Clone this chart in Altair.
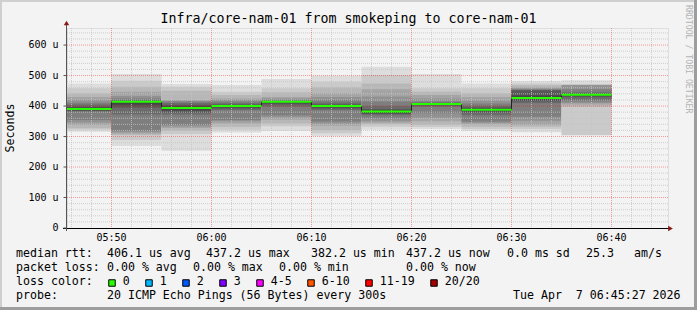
import altair as alt
import pandas as pd

# ---------------- data ----------------
bar_starts = ["05:45", "05:50", "05:55", "06:00", "06:05", "06:10",
              "06:15", "06:20", "06:25", "06:30", "06:35"]
step_minutes = 5
medians = [390, 414, 394, 400, 414, 400, 382, 407, 388, 426, 437]  # microseconds

# smoke bands: outer (band 1) to inner (band 10); upper edges p20..p11, lower edges p1..p10
smoke_hi = [
    [474, 458, 442, 430, 420, 411, 405, 398, 395, 392],
    [505, 483, 463, 447, 433, 425, 420, 417, 416, 415],
    [472, 463, 450, 420, 417, 415, 410, 404, 399, 397],
    [469, 447, 436, 425, 420, 415, 409, 405, 403, 401],
    [489, 458, 445, 430, 425, 420, 417, 416, 415, 414],
    [499, 480, 462, 442, 430, 420, 412, 406, 403, 401],
    [529, 502, 474, 455, 431, 415, 400, 390, 386, 384],
    [505, 458, 447, 436, 425, 415, 412, 410, 409, 408],
    [474, 458, 442, 430, 418, 408, 400, 395, 392, 390],
    [482, 474, 468, 462, 458, 455, 453, 452, 435, 428],
    [485, 472, 470, 469, 468, 455, 445, 441, 439, 438],
]
smoke_lo = [
    [316, 322, 327, 338, 346, 354, 381, 384, 386, 388],
    [269, 289, 305, 310, 314, 318, 372, 395, 404, 412],
    [253, 308, 318, 328, 333, 338, 372, 378, 385, 391],
    [313, 322, 332, 343, 350, 354, 387, 392, 396, 399],
    [318, 334, 343, 355, 363, 370, 398, 405, 409, 412],
    [302, 311, 321, 335, 343, 349, 387, 392, 396, 399],
    [322, 332, 340, 345, 350, 360, 370, 374, 376, 378],
    [325, 331, 338, 350, 362, 376, 398, 402, 405, 407],
    [318, 325, 332, 340, 345, 349, 370, 378, 382, 385],
    [314, 325, 332, 338, 352, 365, 409, 415, 420, 424],
    [303, 305, 398, 405, 410, 415, 420, 430, 434, 436],
]

y_ticks = [0, 100, 200, 300, 400, 500, 600]
y_labels = ["0", "100 u", "200 u", "300 u", "400 u", "500 u", "600 u"]
x_ticks = ["05:50", "06:00", "06:10", "06:20", "06:30", "06:40"]

title_text = "Infra/core-nam-01 from smokeping to core-nam-01"
loss_colors = ["#26ff00", "#00b8ff", "#0059ff", "#7e00ff", "#ff00ff", "#ff5500", "#ff0000", "#a10000"]
loss_labels = ["0", "1", "2", "3", "4-5", "6-10", "11-19", "20/20"]

legend_rows = [
    [("median rtt:", 16), ("406.1 us avg", 107), ("437.2 us max", 206), ("382.2 us min", 311),
     ("437.2 us now", 406), ("0.0 ms sd", 507), ("25.3", 586), ("am/s", 634)],
    [("packet loss:", 16), ("0.00 % avg", 107), ("0.00 % max", 193), ("0.00 % min", 279),
     ("0.00 % now", 406)],
    [("loss color:", 16)],
    [("probe:", 16), ("20 ICMP Echo Pings (56 Bytes) every 300s", 107),
     ("Tue Apr \u00a07 06:45:27 2026", 513)],
]

# ---------------- layout ----------------
W, H = 601, 200
L, T = 67, 28
FONT = "DejaVu Sans Mono"


def to_min(s):
    h, m = s.split(":")
    return int(h) * 60 + int(m)


x0 = to_min("05:50") - 4.45
xscale = alt.Scale(domain=[x0, x0 + W / 10.0], nice=False, zero=False)
yscale = alt.Scale(domain=[0, 656], nice=False, zero=False)

rows = []
for b, s in enumerate(bar_starts):
    t0 = to_min(s)
    for i in range(10):
        g = int(190 / 10 * (10 - (i + 1))) + 50
        rows.append(dict(t0=t0, t1=t0 + step_minutes, lo=smoke_lo[b][i], hi=smoke_hi[b][i],
                         color="#%02x%02x%02x" % (g, g, g), k=b * 10 + i))
smoke_df = pd.DataFrame(rows)

med_df = pd.DataFrame(dict(t0=[to_min(s) for s in bar_starts],
                           t1=[to_min(s) + step_minutes for s in bar_starts],
                           m=medians))
conn_df = pd.DataFrame(dict(t=[to_min(s) + step_minutes for s in bar_starts[:-1]],
                            a=medians[:-1], b=medians[1:]))

minor_y = [v for v in range(20, 656, 20) if v % 100]
major_y = [v for v in y_ticks if v > 0]
start_m, end_m = int(x0) + 1, int(x0 + W / 10.0)
minor_x = [v for v in range(start_m, end_m + 1) if v % 2 == 0 and v % 10]
major_x = [to_min(s) for s in x_ticks]

one = pd.DataFrame({"a": [0]})


def box(x1, y1, x2, y2, color):
    return alt.Chart(one).mark_rect(color=color).encode(
        x=alt.value(x1 - L), x2=alt.value(x2 - L), y=alt.value(y1 - T), y2=alt.value(y2 - T))


def label(text, x, y, size, color="#000000", align="left", angle=0):
    return alt.Chart(one).mark_text(text=text, font=FONT, fontSize=size, color=color,
                                    align=align, baseline="middle", angle=angle).encode(
        x=alt.value(x - L), y=alt.value(y - T))


smoke = alt.Chart(smoke_df).mark_rect(clip=True).encode(
    x=alt.X("t0:Q", scale=xscale, axis=None), x2="t1:Q",
    y=alt.Y("lo:Q", scale=yscale, axis=None), y2="hi:Q",
    color=alt.Color("color:N", scale=None), order=alt.Order("k:Q"))

grid_minor_y = alt.Chart(pd.DataFrame({"v": minor_y})).mark_rule(
    color="#c4c4c4", strokeDash=[1, 1], strokeWidth=1, opacity=0.8).encode(
    y=alt.Y("v:Q", scale=yscale, axis=None))
grid_minor_x = alt.Chart(pd.DataFrame({"v": minor_x})).mark_rule(
    color="#c4c4c4", strokeDash=[1, 1], strokeWidth=1, opacity=0.8).encode(
    x=alt.X("v:Q", scale=xscale, axis=None))
grid_major_y = alt.Chart(pd.DataFrame({"v": major_y})).mark_rule(
    color="#ff0000", strokeDash=[1, 1], strokeWidth=1, opacity=0.38).encode(
    y=alt.Y("v:Q", scale=yscale, axis=None))
grid_major_x = alt.Chart(pd.DataFrame({"v": major_x})).mark_rule(
    color="#ff0000", strokeDash=[1, 1], strokeWidth=1, opacity=0.38).encode(
    x=alt.X("v:Q", scale=xscale, axis=None))

connectors = alt.Chart(conn_df).mark_rule(color="#222222", strokeWidth=1).encode(
    x=alt.X("t:Q", scale=xscale, axis=None),
    y=alt.Y("a:Q", scale=yscale, axis=None), y2="b:Q")
median_line = alt.Chart(med_df).mark_rule(color="#26ff00", strokeWidth=2, clip=True).encode(
    x=alt.X("t0:Q", scale=xscale, axis=None), x2="t1:Q",
    y=alt.Y("m:Q", scale=yscale, axis=None))

ylab = alt.Chart(pd.DataFrame({"v": y_ticks, "t": y_labels})).mark_text(
    font=FONT, fontSize=10, align="right", baseline="middle", color="#000000").encode(
    y=alt.Y("v:Q", scale=yscale, axis=None), x=alt.value(58.5 - L), text="t:N")
ytick = alt.Chart(pd.DataFrame({"v": y_ticks})).mark_rule(color="#555555").encode(
    y=alt.Y("v:Q", scale=yscale, axis=None), x=alt.value(63.5 - L), x2=alt.value(67 - L))
xlab = alt.Chart(pd.DataFrame({"v": major_x, "t": x_ticks})).mark_text(
    font=FONT, fontSize=10, align="center", baseline="middle", color="#000000").encode(
    x=alt.X("v:Q", scale=xscale, axis=None), y=alt.value(238 - T), text="t:N")

layers = [
    # frame
    box(0, 0, 697, 2, "#cfcfcf"), box(0, 0, 2, 310, "#cfcfcf"),
    box(0, 307, 697, 310, "#9d9d9d"), box(694, 0, 697, 310, "#9d9d9d"),
    smoke, grid_minor_y, grid_minor_x, grid_major_y, grid_major_x,
    connectors, median_line,
    # axes
    alt.Chart(one).mark_rule(color="#000000", strokeWidth=1).encode(
        x=alt.value(63 - L), x2=alt.value(669 - L), y=alt.value(228.5 - T)),
    alt.Chart(one).mark_rule(color="#555555", strokeWidth=1).encode(
        x=alt.value(66.5 - L), y=alt.value(24 - T), y2=alt.value(231 - T)),
    alt.Chart(one).mark_point(shape="triangle-up", filled=True, size=30, color="#8b1a1a", opacity=1).encode(
        x=alt.value(66.5 - L), y=alt.value(23 - T)),
    alt.Chart(one).mark_point(shape="triangle-right", filled=True, size=30, color="#8b1a1a", opacity=1).encode(
        x=alt.value(670.5 - L), y=alt.value(228.5 - T)),
    ytick, ylab, xlab,
    # texts
    label(title_text, 348.5, 19, 13.3, align="center"),
    label("Seconds", 11, 128, 11.6, align="center", angle=270),
    label("RRDTOOL / TOBI OETIKER", 688, 5, 8.2, color="#b4b4b4", align="left", angle=90),
]

row_y = [253.5, 267.5, 281.5, 295.5]
for r, items in enumerate(legend_rows):
    for text, x in items:
        layers.append(label(text, x, row_y[r], 11.6))

# loss colour legend items
x_item = 108.3
for c, lab in zip(loss_colors, loss_labels):
    layers.append(alt.Chart(one).mark_square(size=42, color=c, opacity=1, stroke="#000000", strokeWidth=1).encode(
        x=alt.value(x_item + 3.7 - L), y=alt.value(283 - T)))
    layers.append(label(lab, x_item + 14.5, row_y[2], 11.6))
    x_item += 30 + 7 * len(lab)

chart = alt.layer(*layers).properties(
    width=W, height=H,
    padding={"left": L, "top": T, "right": 697 - L - W, "bottom": 310 - T - H},
    autosize=alt.AutoSizeParams(type="none"),
).configure_view(fill="#ffffff", stroke=None).configure(background="#f3f3f3")

chart.save("out.html", embed_options={"renderer": "svg", "actions": False})
